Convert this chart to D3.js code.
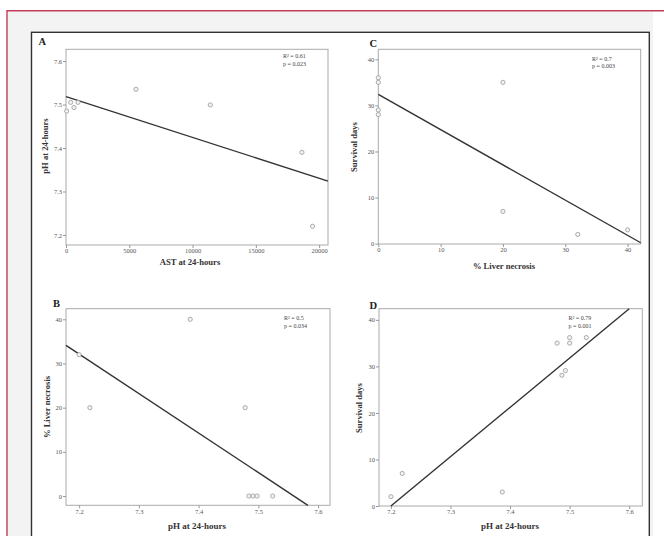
<!DOCTYPE html>
<html><head><meta charset="utf-8">
<script src="https://cdn.jsdelivr.net/npm/d3@7"></script>
<style>body{margin:0;background:#fff}svg{display:block}</style>
</head><body>
<svg id="c" width="664" height="536"></svg>
<script>
// ---- data ----
const astA = [50, 370, 630, 950, 5530, 11400, 18640, 19480];
const phA = [7.485, 7.505, 7.493, 7.505, 7.535, 7.499, 7.39, 7.22];
const fitA_x = [0, 20700];
const fitA_y = [7.518, 7.324];

const necC = [0, 0, 0, 0, 20, 20, 32, 40];
const survC = [36, 35, 29, 28, 35, 7, 2, 3];
const fitC_x = [0, 42.1];
const fitC_y = [32.4, 0.2];

const phB = [7.20, 7.218, 7.386, 7.478, 7.484, 7.491, 7.498, 7.524];
const necB = [32, 20, 40, 20, 0, 0, 0, 0];
const fitB_x = [7.178, 7.583];
const fitB_y = [34.1, -2.1];

const phD = [7.479, 7.50, 7.50, 7.528, 7.487, 7.493, 7.219, 7.20, 7.387];
const survD = [35, 36.2, 35, 36.2, 28.1, 29.1, 7, 2, 3];
const fitD_x = [7.2, 7.6];
const fitD_y = [0, 42.4];

const ticksAST = [0, 5000, 10000, 15000, 20000];
const ticksPH = [7.2, 7.3, 7.4, 7.5, 7.6];
const ticks40 = [0, 10, 20, 30, 40];

const statsA = ["R\u00B2 = 0.61", "p = 0.023"];
const statsC = ["R\u00B2 = 0.7", "p = 0.003"];
const statsB = ["R\u00B2 = 0.5", "p = 0.034"];
const statsD = ["R\u00B2 = 0.79", "p = 0.001"];

// ---- frame ----
const svg = d3.select("#c");
svg.append("rect").attr("x", 8).attr("y", 11.5).attr("width", 645).attr("height", 530).attr("fill", "#f3f3f3");
svg.append("line").attr("x1", 7).attr("x2", 664).attr("y1", 10.7).attr("y2", 10.7).attr("stroke", "#c23a58").attr("stroke-width", 1.4);
svg.append("line").attr("x1", 7).attr("x2", 7).attr("y1", 10).attr("y2", 536).attr("stroke", "#c23a58").attr("stroke-width", 1.4);
svg.append("rect").attr("x", 31.5).attr("y", 32.3).attr("width", 617.8).attr("height", 520)
  .attr("fill", "#fff").attr("stroke", "#333").attr("stroke-width", 1.4);

const serif = "'Liberation Serif','DejaVu Serif',serif";

function panel(o) {
  const g = svg.append("g");
  const x = d3.scaleLinear().domain(o.xd).range([o.l, o.r]);
  const y = d3.scaleLinear().domain(o.yd).range([o.b, o.t]);
  g.append("rect").attr("x", o.l).attr("y", o.t).attr("width", o.r - o.l).attr("height", o.b - o.t)
    .attr("fill", "#fff").attr("stroke", "#aaa").attr("stroke-width", 1);
  const ax = g.append("g").attr("transform", `translate(0,${o.b})`)
    .call(d3.axisBottom(x).tickValues(o.xt).tickSize(3).tickSizeOuter(0).tickFormat(o.xf || d3.format("")));
  const ay = g.append("g").attr("transform", `translate(${o.l},0)`)
    .call(d3.axisLeft(y).tickValues(o.yt).tickSize(3).tickSizeOuter(0).tickFormat(o.yf || d3.format("")));
  [ax, ay].forEach(a => {
    a.select(".domain").remove();
    a.selectAll("line").attr("stroke", "#999");
    a.selectAll("text").attr("fill", "#555").style("font-family", serif).style("font-size", "6.5px");
  });
  ax.selectAll("text").attr("dy", "0.9em").attr("y", 2.5);
  ay.selectAll("text").attr("x", -4);
  g.append("line").attr("x1", x(o.fx[0])).attr("y1", y(o.fy[0])).attr("x2", x(o.fx[1])).attr("y2", y(o.fy[1]))
    .attr("stroke", "#333").attr("stroke-width", 1.4);
  g.selectAll("circle.p").data(o.xs.map((v, i) => [v, o.ys[i]])).join("circle")
    .attr("cx", d => x(d[0])).attr("cy", d => y(d[1])).attr("r", 2.1)
    .attr("fill", "#f2f2f2").attr("stroke", "#999").attr("stroke-width", 0.8);
  o.stats.forEach((s, i) => {
    g.append("text").attr("x", o.sx).attr("y", o.sy + i * o.sd).text(s)
      .attr("fill", "#444").style("font-family", serif).style("font-size", "6px");
  });
  g.append("text").attr("x", o.lx).attr("y", o.ly).text(o.letter)
    .attr("fill", "#222").style("font-family", serif).style("font-size", "10.5px").style("font-weight", "bold");
  g.append("text").attr("x", o.xtx).attr("y", o.xty).attr("text-anchor", "middle").text(o.xtitle)
    .attr("fill", "#333").style("font-family", serif).style("font-size", o.xts + "px").style("font-weight", "bold");
  g.append("text").attr("transform", `translate(${o.ytx},${o.yty}) rotate(-90)`).attr("text-anchor", "middle")
    .attr("dy", "0.35em").text(o.ytitle)
    .attr("fill", "#333").style("font-family", serif).style("font-size", "8.6px").style("font-weight", "bold");
}

panel({l: 66, r: 328, t: 49.3, b: 245, xd: [0, 20700], yd: [7.177, 7.627],
  xt: ticksAST, yt: ticksPH, yf: d3.format(".1f"), xs: astA, ys: phA, fx: fitA_x, fy: fitA_y,
  stats: statsA, sx: 283, sy: 58, sd: 7.8, letter: "A", lx: 38.5, ly: 45,
  xtitle: "AST at 24-hours", xtx: 190, xty: 264.5, xts: 8.6, ytitle: "pH at 24-hours", ytx: 45, yty: 146});

panel({l: 378.3, r: 640.7, t: 49.3, b: 244, xd: [0, 42.1], yd: [-0.07, 42.17],
  xt: ticks40, yt: ticks40, xs: necC, ys: survC, fx: fitC_x, fy: fitC_y,
  stats: statsC, sx: 592, sy: 60.5, sd: 7.5, letter: "C", lx: 369.5, ly: 46.5,
  xtitle: "% Liver necrosis", xtx: 504, xty: 268.5, xts: 8.6, ytitle: "Survival days", ytx: 354, yty: 147});

panel({l: 66, r: 330, t: 308.7, b: 505.3, xd: [7.178, 7.62], yd: [-2.1, 42.4],
  xt: ticksPH, yt: ticks40, xf: d3.format(".1f"), xs: phB, ys: necB, fx: fitB_x, fy: fitB_y,
  stats: statsB, sx: 284, sy: 320, sd: 8, letter: "B", lx: 53, ly: 307,
  xtitle: "pH at 24-hours", xtx: 197, xty: 529, xts: 9, ytitle: "% Liver necrosis", ytx: 47, yty: 407});

panel({l: 379, r: 642.3, t: 308.7, b: 506, xd: [7.18, 7.622], yd: [0, 42.4],
  xt: ticksPH, yt: ticks40, xf: d3.format(".1f"), xs: phD, ys: survD, fx: fitD_x, fy: fitD_y,
  stats: statsD, sx: 568.5, sy: 320, sd: 7.5, letter: "D", lx: 369.5, ly: 309,
  xtitle: "pH at 24-hours", xtx: 510, xty: 529, xts: 9, ytitle: "Survival days", ytx: 358.5, yty: 408});
</script>
</body></html>
